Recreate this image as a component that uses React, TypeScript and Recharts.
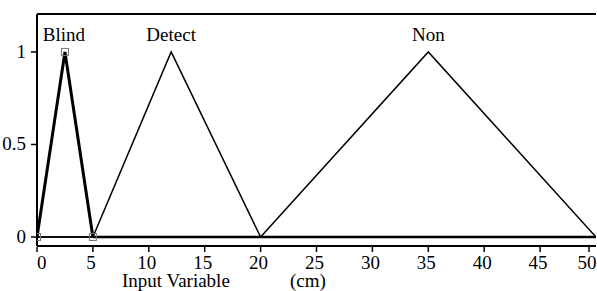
import { LineChart, Line, XAxis, YAxis, ReferenceDot } from 'recharts'

// membership functions of the input variable (cm)
const blindX = [0, 2.5, 5]
const blindY = [0, 1, 0]
const detectX = [0, 5, 12, 20, 50]
const detectY = [0, 0, 1, 0, 0]
const nonX = [0, 20, 35, 50]
const nonY = [0, 0, 1, 0]
const baseX = [5, 50]
const baseY = [0, 0]

const setNames = ['Blind', 'Detect', 'Non']
const setLabelX = [2.4, 12, 35]
const setLabelY = 1.06

const xTicks = [0, 5, 10, 15, 20, 25, 30, 35, 40, 45, 50]
const yTicks = [0, 0.5, 1]

const font = '"Liberation Serif", "Times New Roman", serif'
const fs = 19

const toPoints = (xs: number[], ys: number[]) => xs.map((x, i) => ({ x, y: ys[i] }))

const BottomTick = ({ x, y, payload }: any) => (
  <g>
    <line x1={x} y1={y} x2={x} y2={y - 5} stroke="#000" strokeWidth={1.5} />
    <text
      x={payload.value === 0 ? x : x - 2}
      y={y + 17}
      textAnchor={payload.value === 0 ? 'start' : 'middle'}
      fontSize={fs}
      style={{ fontFamily: font }}
      fill="#000"
    >
      {payload.value}
    </text>
  </g>
)

const TopTick = ({ x, y }: any) => (
  <line x1={x} y1={y} x2={x} y2={y + 5} stroke="#000" strokeWidth={1.5} />
)

const LeftTick = ({ x, y, payload }: any) => (
  <g>
    <line x1={x} y1={y} x2={x + 5} y2={y} stroke="#000" strokeWidth={1.5} />
    <text x={x - 5} y={y + 6} textAnchor="end" fontSize={fs} style={{ fontFamily: font }} fill="#000">
      {payload.value}
    </text>
  </g>
)

const RightTick = ({ x, y }: any) => (
  <line x1={x} y1={y} x2={x - 5} y2={y} stroke="#000" strokeWidth={1.5} />
)

const SquareDot = ({ cx, cy }: any) => (
  <rect x={cx - 3.5} y={cy - 3.5} width={7} height={7} fill="none" stroke="#777" strokeWidth={1} />
)

const AxisTitle = ({ viewBox }: any) => (
  <g fontSize={fs} style={{ fontFamily: font }} fill="#000">
    <text x={viewBox.x + 85} y={viewBox.y + 41}>Input Variable</text>
    <text x={viewBox.x + 253} y={viewBox.y + 41}>(cm)</text>
  </g>
)

export default function App() {
  return (
    <div style={{ position: 'absolute', left: 0, top: 0, background: '#fff' }}>
      <LineChart width={597} height={291} margin={{ top: 0, right: 1, bottom: 0, left: 0 }}>
        <XAxis
          xAxisId="b"
          type="number"
          dataKey="x"
          domain={[0, 50]}
          ticks={xTicks}
          height={45}
          tickLine={false}
          tickMargin={0}
          tick={<BottomTick />}
          axisLine={{ stroke: '#000', strokeWidth: 2 }}
          allowDataOverflow
          label={<AxisTitle />}
        />
        <XAxis
          xAxisId="t"
          orientation="top"
          type="number"
          dataKey="x"
          domain={[0, 50]}
          ticks={xTicks}
          height={14}
          tickLine={false}
          tickMargin={0}
          tick={<TopTick />}
          axisLine={{ stroke: '#000', strokeWidth: 2 }}
        />
        <YAxis
          yAxisId="l"
          type="number"
          domain={[-0.0486, 1.205]}
          ticks={yTicks}
          width={37}
          tickLine={false}
          tickMargin={0}
          tick={<LeftTick />}
          axisLine={{ stroke: '#000', strokeWidth: 2 }}
          allowDataOverflow
        />
        <YAxis
          yAxisId="r"
          orientation="right"
          type="number"
          domain={[-0.0486, 1.205]}
          ticks={yTicks}
          width={0}
          tickLine={false}
          tickMargin={0}
          tick={<RightTick />}
          axisLine={{ stroke: '#000', strokeWidth: 2 }}
          allowDataOverflow
        />
        <Line
          xAxisId="b"
          yAxisId="l"
          data={toPoints(baseX, baseY)}
          dataKey="y"
          stroke="#000"
          strokeWidth={2.5}
          dot={false}
          isAnimationActive={false}
        />
        <Line
          xAxisId="b"
          yAxisId="l"
          data={toPoints(detectX, detectY)}
          dataKey="y"
          stroke="#000"
          strokeWidth={1.5}
          dot={false}
          isAnimationActive={false}
        />
        <Line
          xAxisId="b"
          yAxisId="l"
          data={toPoints(nonX, nonY)}
          dataKey="y"
          stroke="#000"
          strokeWidth={1.5}
          dot={false}
          isAnimationActive={false}
        />
        <Line
          xAxisId="b"
          yAxisId="l"
          data={toPoints(blindX, blindY)}
          dataKey="y"
          stroke="#000"
          strokeWidth={3}
          strokeLinejoin="miter"
          dot={<SquareDot />}
          isAnimationActive={false}
        />
        {setNames.map((name, i) => (
          <ReferenceDot
            key={name}
            xAxisId="b"
            yAxisId="l"
            x={setLabelX[i]}
            y={setLabelY}
            r={0}
            fill="none"
            stroke="none"
            label={(p: any) => (
              <text
                x={p.viewBox.x + (p.viewBox.width || 0) / 2}
                y={p.viewBox.y + (p.viewBox.height || 0) / 2}
                textAnchor="middle"
                fontSize={fs}
                style={{ fontFamily: font }}
                fill="#000"
              >
                {name}
              </text>
            )}
          />
        ))}
      </LineChart>
    </div>
  )
}
